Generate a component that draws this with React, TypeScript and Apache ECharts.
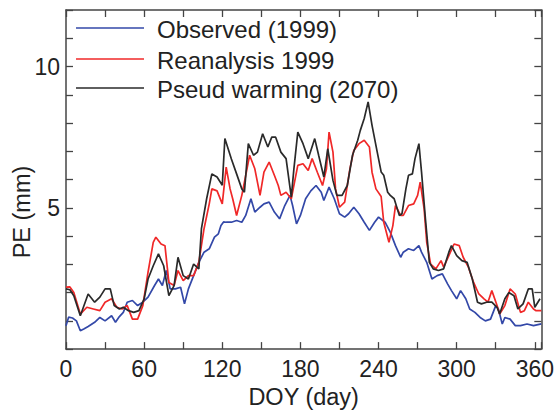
import React, { useEffect, useRef } from "react";
import * as echarts from "echarts";

// Day of year samples and PE values (mm)
const obsDays = [0, 2, 5, 8, 11, 14, 17, 22, 26, 30, 35, 38, 41, 44, 47, 51, 55, 59, 63, 68, 71, 74, 77, 80, 84, 88, 91, 94, 98, 102, 106, 110, 114, 117, 119, 121, 123, 127, 131, 135, 138, 142, 145, 149, 152, 156, 160, 164, 168, 172, 174, 177, 180, 184, 188, 192, 196, 198, 202, 206, 210, 214, 217, 221, 225, 229, 233, 237, 240, 245, 249, 253, 257, 259, 263, 267, 271, 273, 277, 281, 285, 289, 293, 296, 300, 303, 307, 310, 314, 318, 322, 326, 330, 332, 335, 337, 341, 345, 349, 354, 359, 365];
const obsVals = [0.83, 1.13, 1.1, 1.0, 0.65, 0.72, 0.8, 0.95, 1.12, 1.0, 1.18, 0.95, 1.15, 1.3, 1.66, 1.72, 1.54, 1.66, 1.84, 2.25, 2.48, 2.25, 2.78, 2.13, 2.13, 2.19, 1.6, 2.13, 2.6, 3.07, 3.43, 3.55, 3.96, 4.08, 4.37, 4.5, 4.49, 4.49, 4.55, 4.49, 4.73, 5.32, 4.85, 5.02, 5.14, 5.2, 4.85, 4.61, 5.08, 5.44, 5.08, 4.43, 4.73, 5.32, 5.6, 5.79, 5.55, 5.26, 5.73, 5.32, 4.79, 4.67, 4.79, 5.02, 4.79, 4.49, 4.2, 4.49, 4.67, 4.49, 4.14, 3.66, 3.25, 3.43, 3.55, 3.49, 3.66, 3.43, 3.07, 2.48, 2.6, 2.66, 2.31, 2.07, 1.78, 2.07, 1.78, 1.42, 1.3, 1.12, 1.0, 1.06, 1.54, 1.42, 0.89, 1.12, 1.06, 0.83, 0.83, 0.89, 0.83, 0.89];

const reaDays = [0, 3, 6, 11, 16, 21, 26, 30, 35, 39, 43, 47, 51, 55, 59, 63, 67, 69, 73, 76, 79, 83, 86, 90, 94, 98, 102, 106, 110, 112, 116, 120, 123, 126, 128, 131, 135, 137, 141, 145, 149, 152, 156, 160, 163, 165, 169, 173, 178, 182, 186, 189, 193, 197, 200, 202, 205, 207, 210, 214, 218, 221, 225, 229, 233, 235, 238, 242, 244, 248, 251, 253, 257, 259, 263, 267, 270, 272, 275, 277, 280, 284, 288, 290, 294, 298, 302, 305, 309, 313, 317, 321, 324, 327, 331, 333, 337, 341, 345, 349, 352, 355, 359, 361, 365];
const reaVals = [2.19, 2.2, 2.0, 1.24, 1.48, 1.42, 1.36, 1.66, 1.78, 1.48, 1.42, 1.54, 1.06, 1.06, 1.54, 2.72, 3.78, 3.96, 3.72, 3.66, 2.36, 2.25, 2.78, 2.42, 2.6, 2.6, 3.07, 4.26, 5.14, 5.67, 5.6, 5.14, 6.44, 5.67, 5.32, 4.73, 5.44, 5.91, 6.86, 6.38, 5.44, 6.26, 6.62, 6.15, 5.79, 5.44, 5.55, 5.32, 6.5, 6.56, 6.32, 6.74, 6.26, 5.79, 6.38, 7.68, 6.97, 5.67, 5.02, 5.2, 6.38, 7.03, 7.27, 7.39, 7.15, 6.26, 5.67, 5.4, 4.49, 3.78, 4.37, 5.08, 4.73, 4.73, 5.08, 5.14, 5.44, 5.91, 4.96, 3.78, 3.01, 2.84, 3.13, 2.9, 3.31, 3.72, 3.66, 3.25, 2.9, 2.36, 1.95, 1.78, 1.66, 2.07, 1.54, 1.24, 1.54, 2.13, 1.95, 1.3, 1.36, 1.66, 1.42, 1.36, 1.36];

const pwDays = [0, 3, 6, 11, 17, 22, 26, 30, 34, 37, 41, 44, 48, 52, 56, 60, 63, 67, 71, 75, 79, 83, 86, 90, 94, 98, 102, 104, 108, 112, 116, 120, 122, 127, 131, 135, 137, 140, 144, 147, 151, 155, 158, 161, 165, 169, 173, 175, 178, 182, 186, 191, 194, 198, 201, 205, 208, 212, 216, 220, 224, 226, 229, 232, 235, 239, 242, 244, 247, 249, 252, 256, 258, 261, 263, 266, 268, 271, 273, 276, 279, 282, 286, 290, 294, 296, 300, 304, 308, 312, 316, 319, 323, 327, 331, 333, 337, 340, 344, 347, 351, 355, 358, 360, 364];
const pwVals = [2.13, 2.1, 1.89, 1.18, 1.95, 1.66, 1.84, 2.13, 2.13, 1.54, 1.42, 1.48, 1.36, 1.3, 1.36, 1.78, 2.48, 2.95, 3.37, 2.95, 1.89, 2.25, 3.25, 2.6, 2.48, 3.01, 2.84, 4.26, 5.32, 6.2, 6.09, 5.8, 7.45, 6.73, 6.2, 5.67, 5.55, 7.27, 6.86, 6.97, 7.62, 7.15, 7.5, 7.5, 6.97, 6.74, 5.38, 6.38, 7.68, 7.27, 6.74, 7.45, 6.86, 6.09, 7.09, 5.97, 5.44, 5.44, 5.79, 6.86, 7.39, 7.74, 8.16, 8.75, 7.92, 6.97, 6.27, 6.15, 5.55, 5.44, 5.32, 4.73, 4.79, 5.67, 6.15, 6.2, 6.74, 7.27, 6.27, 4.61, 3.07, 2.84, 2.78, 2.84, 3.43, 3.66, 3.31, 3.13, 3.07, 2.48, 1.66, 1.6, 1.66, 1.66, 1.48, 1.24, 1.78, 2.0, 1.89, 1.42, 1.6, 2.13, 2.13, 1.48, 1.78];

const seriesNames = ["Observed (1999)", "Reanalysis 1999", "Pseud warming (2070)"];
const seriesColors = ["#3348a8", "#f02828", "#2a2a2a"];
const xMajorLabels = [0, 60, 120, 180, 240, 300, 360];
const yMajorLabels = [5, 10];

const FONT = "Liberation Sans, Arial, Helvetica, sans-serif";
const TEXT = "#222222";
const AXIS = "#444444";

function pairs(days: number[], vals: number[]) {
  return days.map((d, i) => [d, vals[i]]);
}

export default function App() {
  const ref = useRef<HTMLDivElement>(null);
  useEffect(() => {
    if (!ref.current) return;
    const chart = echarts.init(ref.current, undefined, { renderer: "svg" });
    const tickStyle = () => ({ show: true, inside: true, length: 7, lineStyle: { color: AXIS, width: 1.3 } });
    const lineAxis = () => ({ show: true, onZero: false, lineStyle: { color: AXIS, width: 1.5 } });
    const legendYs = [28, 59, 88];
    const legendGraphics: any[] = [];
    seriesNames.forEach((name, i) => {
      legendGraphics.push({
        type: "line",
        shape: { x1: 76, y1: legendYs[i], x2: 144, y2: legendYs[i] },
        style: { stroke: seriesColors[i], lineWidth: 1.6 },
      });
      legendGraphics.push({
        type: "text",
        x: 157,
        y: legendYs[i] + 1,
        style: {
          text: name,
          fontFamily: FONT,
          fontSize: 24,
          fill: TEXT,
          align: "left",
          verticalAlign: "middle",
        },
      });
    });
    chart.setOption({
      animation: false,
      backgroundColor: "#ffffff",
      grid: { left: 66, right: 13, top: 10, bottom: 62, containLabel: false },
      xAxis: [
        {
          type: "value",
          position: "bottom",
          min: 0,
          max: 365,
          interval: 30,
          axisLine: lineAxis(),
          axisTick: tickStyle(),
          splitLine: { show: false },
          axisLabel: {
            fontFamily: FONT,
            fontSize: 23,
            color: TEXT,
            margin: 8,
            formatter: (v: number) => (xMajorLabels.includes(v) ? String(v) : ""),
          },
          name: "DOY (day)",
          nameLocation: "middle",
          nameGap: 34,
          nameTextStyle: { fontFamily: FONT, fontSize: 23.5, color: TEXT },
        },
        {
          type: "value",
          position: "top",
          min: 0,
          max: 365,
          interval: 30,
          axisLine: lineAxis(),
          axisTick: tickStyle(),
          splitLine: { show: false },
          axisLabel: { show: false },
        },
      ],
      yAxis: [
        {
          type: "value",
          position: "left",
          min: 0,
          max: 12,
          interval: 1,
          axisLine: lineAxis(),
          axisTick: tickStyle(),
          splitLine: { show: false },
          axisLabel: {
            fontFamily: FONT,
            fontSize: 23,
            color: TEXT,
            margin: 6,
            formatter: (v: number) => (yMajorLabels.includes(v) ? String(v) : ""),
          },
        },
        {
          type: "value",
          position: "right",
          min: 0,
          max: 12,
          interval: 1,
          axisLine: lineAxis(),
          axisTick: tickStyle(),
          splitLine: { show: false },
          axisLabel: { show: false },
        },
      ],
      graphic: [
        {
          type: "text",
          x: 22,
          y: 212,
          rotation: Math.PI / 2,
          style: {
            text: "PE (mm)",
            fontFamily: FONT,
            fontSize: 23.5,
            fill: TEXT,
            align: "center",
            verticalAlign: "middle",
          },
        },
        ...legendGraphics,
      ],
      series: [
        {
          name: seriesNames[0],
          type: "line",
          symbol: "none",
          data: pairs(obsDays, obsVals),
          itemStyle: { color: seriesColors[0] },
          lineStyle: { color: seriesColors[0], width: 1.7 },
        },
        {
          name: seriesNames[1],
          type: "line",
          symbol: "none",
          data: pairs(reaDays, reaVals),
          itemStyle: { color: seriesColors[1] },
          lineStyle: { color: seriesColors[1], width: 1.7 },
        },
        {
          name: seriesNames[2],
          type: "line",
          symbol: "none",
          data: pairs(pwDays, pwVals),
          itemStyle: { color: seriesColors[2] },
          lineStyle: { color: seriesColors[2], width: 1.7 },
        },
      ],
    });
    return () => chart.dispose();
  }, []);
  return <div ref={ref} style={{ width: 557, height: 414, position: "absolute", left: 0, top: 0 }} />;
}
